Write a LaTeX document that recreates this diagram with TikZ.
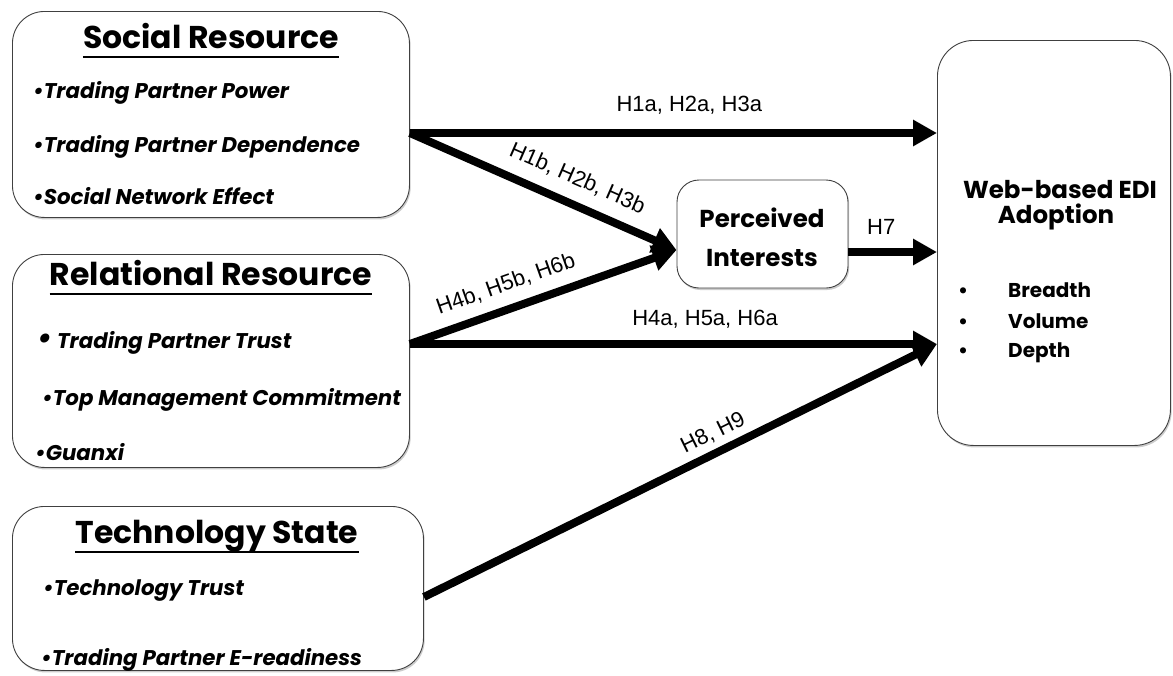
\documentclass[tikz,border=0pt]{standalone}
\usepackage{fontspec}
\setmainfont{Poppins}
\newfontfamily\arial{Liberation Sans}
\usetikzlibrary{arrows.meta,shadows}

\begin{document}
\begin{tikzpicture}[x=1pt,y=-1pt,
  box/.style={draw=black!75, line width=0.9pt, fill=white, inner sep=0pt,
    rounded corners=#1,
    drop shadow={shadow xshift=1.2pt,shadow yshift=-2pt,opacity=0.4}},
  hdr/.style={font=\bfseries\fontsize{31.5}{33}\selectfont, inner sep=0pt, anchor=base},
  itm/.style={font=\bfseries\itshape\fontsize{21.3}{24}\selectfont, inner sep=0pt, anchor=base west},
  bighdr/.style={font=\bfseries\fontsize{24.5}{26}\selectfont, inner sep=0pt, anchor=base},
  sub/.style={font=\bfseries\fontsize{20}{22}\selectfont, inner sep=0pt, anchor=base west},
  uline/.style={line width=2pt},
  arr/.style={line width=8pt, -{Triangle[length=24pt,width=25pt]}},
  lbl/.style={font=\arial\fontsize{22}{24}\selectfont, inner sep=0pt, sloped}
]
\useasboundingbox (0,0) rectangle (1173,675);
\fill[white] (0,0) rectangle (1173,675);

% construct boxes
\node[box=32pt, minimum width=397pt, minimum height=206pt, anchor=north west] (soc) at (12,11) {};
\node[box=32pt, minimum width=397pt, minimum height=213pt, anchor=north west] (rel) at (12,254) {};
\node[box=32pt, minimum width=411pt, minimum height=164pt, anchor=north west] (tec) at (12,506) {};
\node[box=22pt, minimum width=171pt, minimum height=108pt] (pi) at (762.5,234) {};
\node[box=36pt, minimum width=233pt, minimum height=405pt, anchor=north west] (web) at (937,40) {};

% Social Resource
\node[hdr] (socH) at (211,48) {Social Resource};
\draw[uline] ([yshift=-9pt]socH.base west) -- ([yshift=-9pt]socH.base east);
\node[itm] (soc1) at (33,98) {•Trading Partner Power};
\node[itm] (soc2) at (33,152) {•Trading Partner Dependence};
\node[itm] (soc3) at (33,204) {•Social Network Effect};

% Relational Resource
\node[hdr] (relH) at (211,285) {Relational Resource};
\draw[uline] ([yshift=-9pt]relH.base west) -- ([yshift=-9pt]relH.base east);
\node[itm] (rel1) at (37,348) {{\fontsize{30}{30}\selectfont •} Trading Partner Trust};
\node[itm] (rel2) at (42,405) {•Top Management Commitment};
\node[itm] (rel3) at (35,460) {•Guanxi};

% Technology State
\node[hdr] (tecH) at (217,543) {Technology State};
\draw[uline] ([yshift=-9pt]tecH.base west) -- ([yshift=-9pt]tecH.base east);
\node[itm] (tec1) at (43,595) {•Technology Trust};
\node[itm] (tec2) at (41,665) {•Trading Partner E-readiness};

% Perceived Interests
\node[bighdr] (piA) at (762,227) {Perceived};
\node[bighdr] (piB) at (762,266) {Interests};

% Web-based EDI Adoption
\node[bighdr] (webA) at (1060,198) {Web-based EDI};
\node[bighdr] (webB) at (1056,223) {Adoption};
\node[sub, anchor=base] (wb1) at (963,297) {•};
\node[sub, anchor=base] (wb2) at (963,328) {•};
\node[sub, anchor=base] (wb3) at (963,357) {•};
\node[sub] (web1) at (1008,297) {Breadth};
\node[sub] (web2) at (1008,328) {Volume};
\node[sub] (web3) at (1008,357) {Depth};

% connector end points on the box borders
\coordinate (s1) at (soc.east |- 0,133);
\coordinate (s2) at (rel.east |- 0,344);
\coordinate (s3) at (tec.east |- 0,597);
\coordinate (pin) at (pi.west |- 0,250);
\coordinate (pout) at (pi.east |- 0,252);

% hypotheses
\draw[arr] (s1) -- node[lbl, pos=0.53, above=15pt] (h1a) {H1a, H2a, H3a} (web.west |- s1);
\draw[arr] (s1) -- node[lbl, pos=0.59, above=12pt] (h1b) {H1b, H2b, H3b} (pin);
\draw[arr] (s2) -- node[lbl, pos=0.39, above=11pt] (h4b) {H4b, H5b, H6b} (pin);
\draw[arr] (s2) -- node[lbl, pos=0.56, above=11.5pt] (h4a) {H4a, H5a, H6a} (web.west |- s2);
\draw[arr] (pout) -- node[lbl, pos=0.37, above=14pt] (h7) {H7} (web.west |- pout);
\draw[arr] (s3) -- node[lbl, pos=0.58, above=6pt] (h8) {H8, H9} (web.west |- s2);
\end{tikzpicture}
\end{document}
